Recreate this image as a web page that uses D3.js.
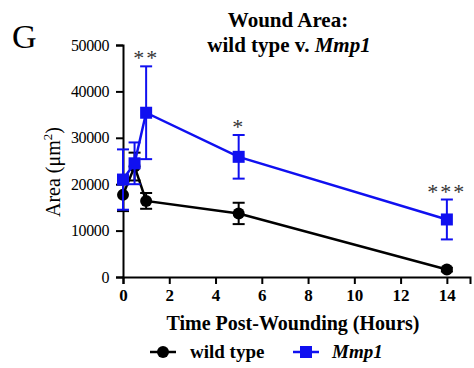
<!DOCTYPE html>
<html>
<head>
<meta charset="utf-8">
<script src="https://cdn.jsdelivr.net/npm/d3@7"></script>
<style>
  body { margin: 0; background: #fff; }
  text { font-family: "Liberation Serif", "DejaVu Serif", serif; }
</style>
</head>
<body>
<div id="chart"></div>
<script>
// data
const hours = [0, 0.5, 1, 5, 14];
const wildType = [17700, 23800, 16400, 13700, 1600];
const wildTypeErr = [3500, 3000, 1700, 2300, 400];
const mmp1 = [21000, 24500, 35400, 25900, 12400];
const mmp1Err = [6500, 4500, 10000, 4700, 4300];
const stars = [null, null, '**', '*', '***'];
const xTicks = [0, 2, 4, 6, 8, 10, 12, 14];
const yTicks = [0, 10000, 20000, 30000, 40000, 50000];

const width = 474, height = 368;
const margin = { top: 45, right: 4, bottom: 91, left: 123 };

const svg = d3.select('#chart')
  .append('svg')
  .attr('width', width)
  .attr('height', height);

const x = d3.scaleLinear().domain([0, 15]).range([margin.left, width - margin.right]);
const y = d3.scaleLinear().domain([0, 50000]).range([height - margin.bottom, margin.top]);

const serif = '"Liberation Serif", serif';

// panel letter + title
svg.append('text')
  .attr('x', 12).attr('y', 48)
  .attr('font-size', 34)
  .text('G');

const title = svg.append('text')
  .attr('text-anchor', 'middle')
  .attr('font-weight', 'bold')
  .attr('font-size', 21);
title.append('tspan').attr('x', 288).attr('y', 27).text('Wound Area:');
const t2 = title.append('tspan').attr('x', 289).attr('y', 52);
t2.append('tspan').text('wild type v. ');
t2.append('tspan').attr('font-style', 'italic').text('Mmp1');

// axes
const xAxis = svg.append('g')
  .attr('transform', `translate(0,${y(0)})`)
  .call(d3.axisBottom(x).tickValues(xTicks).tickSize(7).tickPadding(5));
xAxis.selectAll('text').attr('font-size', 17).attr('font-weight', 'bold')
  .attr('font-family', serif).attr('fill', '#000');

const yAxis = svg.append('g')
  .attr('transform', `translate(${x(0)},0)`)
  .call(d3.axisLeft(y).tickValues(yTicks).tickFormat(d3.format('d')).tickSize(7).tickPadding(7));
yAxis.selectAll('text').attr('font-size', 16).attr('letter-spacing', -0.4)
  .attr('font-family', serif).attr('fill', '#000');

[xAxis, yAxis].forEach(a => {
  a.select('.domain').attr('stroke', '#000').attr('stroke-width', 2);
  a.selectAll('.tick line').attr('stroke', '#000').attr('stroke-width', 2);
});

// y axis label
const yl = svg.append('text')
  .attr('transform', 'translate(60,172) rotate(-90)')
  .attr('text-anchor', 'middle')
  .attr('font-size', 20);
yl.append('tspan').text('Area (\u03bcm');
yl.append('tspan').attr('font-size', 13).attr('dy', -8).text('2');
yl.append('tspan').attr('dy', 8).text(')');

svg.append('text')
  .attr('x', 293).attr('y', 330)
  .attr('text-anchor', 'middle')
  .attr('font-weight', 'bold')
  .attr('font-size', 20)
  .text('Time Post-Wounding (Hours)');

// series
function drawSeries(vals, errs, color, shape) {
  const pts = hours.map((h, i) => ({ h, v: vals[i], e: errs[i] }));
  const g = svg.append('g');
  const cap = 6;
  pts.forEach(p => {
    g.append('line')
      .attr('x1', x(p.h)).attr('x2', x(p.h))
      .attr('y1', y(p.v - p.e)).attr('y2', y(p.v + p.e))
      .attr('stroke', color).attr('stroke-width', 2);
    [p.v - p.e, p.v + p.e].forEach(v => {
      g.append('line')
        .attr('x1', x(p.h) - cap).attr('x2', x(p.h) + cap)
        .attr('y1', y(v)).attr('y2', y(v))
        .attr('stroke', color).attr('stroke-width', 2);
    });
  });
  g.append('path')
    .datum(pts)
    .attr('fill', 'none')
    .attr('stroke', color)
    .attr('stroke-width', 2.5)
    .attr('d', d3.line().x(d => x(d.h)).y(d => y(d.v)));
  pts.forEach(p => {
    if (shape === 'circle') {
      g.append('circle').attr('cx', x(p.h)).attr('cy', y(p.v)).attr('r', 6).attr('fill', color);
    } else {
      g.append('rect').attr('x', x(p.h) - 6).attr('y', y(p.v) - 6)
        .attr('width', 12).attr('height', 12).attr('fill', color);
    }
  });
}

const blue = '#1010f0';
drawSeries(wildType, wildTypeErr, '#000', 'circle');
drawSeries(mmp1, mmp1Err, blue, 'square');

// significance stars
hours.forEach((h, i) => {
  if (!stars[i]) return;
  svg.append('text')
    .attr('x', x(h)).attr('y', y(mmp1[i] + mmp1Err[i]) - 1)
    .attr('text-anchor', 'middle')
    .attr('font-size', 22)
    .attr('letter-spacing', 2)
    .attr('fill', '#333')
    .text(stars[i]);
});

// legend
const leg = svg.append('g').attr('transform', 'translate(0,352)');
leg.append('line').attr('x1', 150).attr('x2', 176).attr('stroke', '#000').attr('stroke-width', 2.5);
leg.append('circle').attr('cx', 163).attr('r', 6).attr('fill', '#000');
leg.append('text').attr('x', 190).attr('y', 6).attr('font-size', 19).attr('font-weight', 'bold').text('wild type');
leg.append('line').attr('x1', 293).attr('x2', 319).attr('stroke', blue).attr('stroke-width', 2.5);
leg.append('rect').attr('x', 300).attr('y', -6).attr('width', 12).attr('height', 12).attr('fill', blue);
leg.append('text').attr('x', 332).attr('y', 6).attr('font-size', 19).attr('font-weight', 'bold')
  .attr('font-style', 'italic').text('Mmp1');
</script>
</body>
</html>
